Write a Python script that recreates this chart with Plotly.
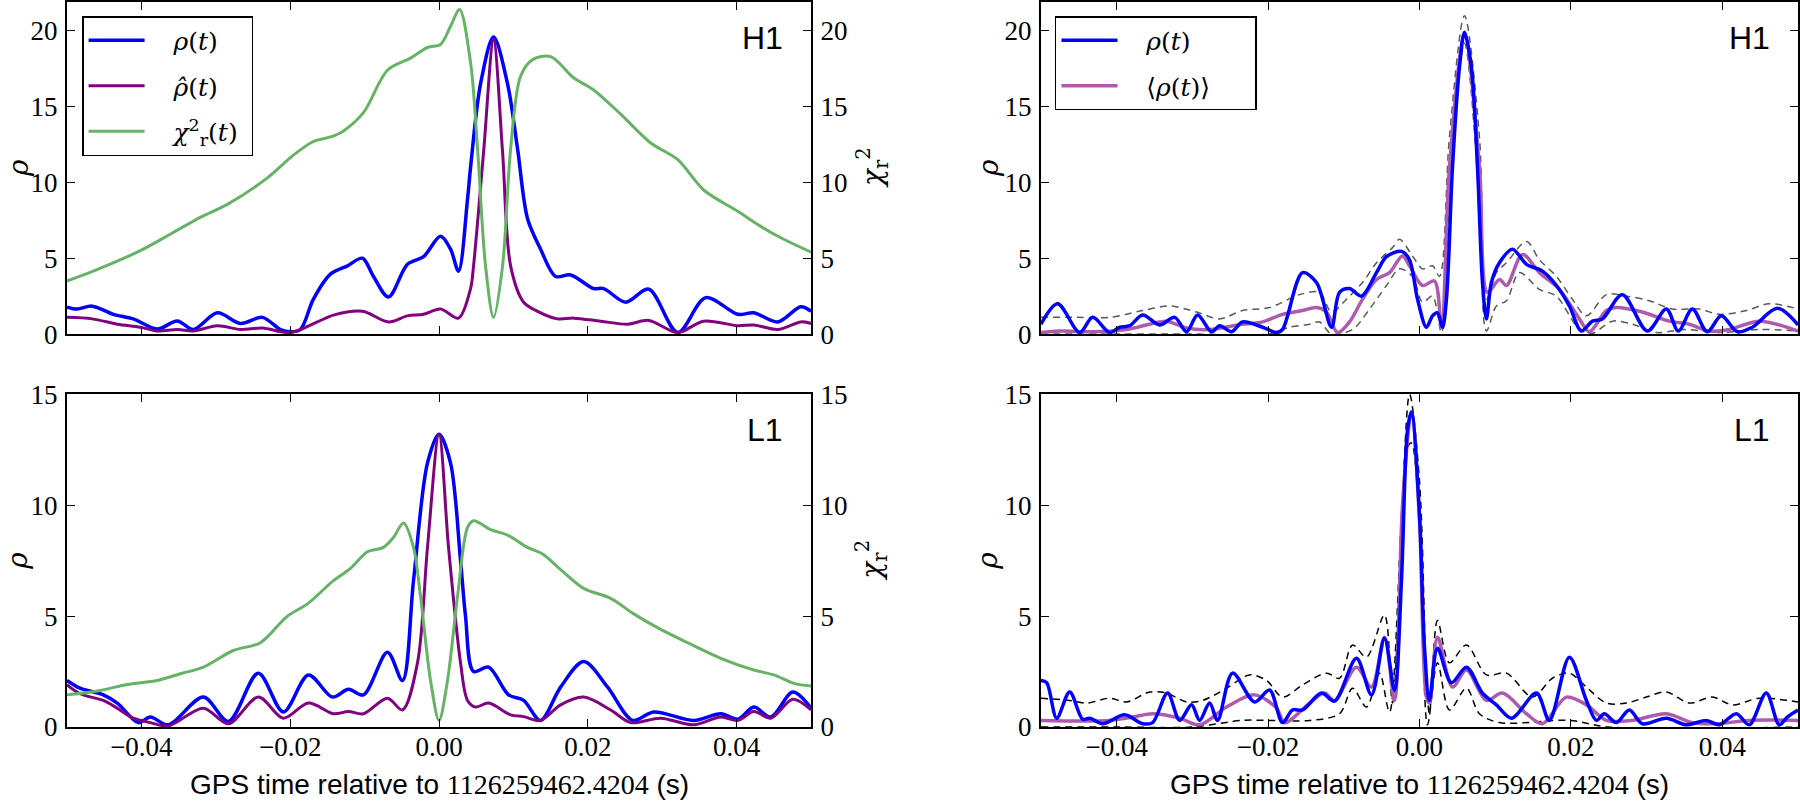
import plotly.graph_objects as go

# ---------------- data (time in s relative to 1126259462.4204) ----------------
# H1, left panel
h1_rho_t = [-0.05, -0.04865, -0.0466, -0.04378, -0.04109, -0.03786, -0.03517, -0.03302, -0.02979, -0.0267,
            -0.02374, -0.02132, -0.01997, -0.01863, -0.01688, -0.01459, -0.0123, -0.01029, -0.00881, -0.00679,
            -0.00424, -0.00208, 0.0002, 0.00155, 0.00262, 0.00383, 0.00424, 0.00558, 0.00733, 0.00921,
            0.01056, 0.0119, 0.01365, 0.01567, 0.01769, 0.02078, 0.02213, 0.02508, 0.02818, 0.03208,
            0.03584, 0.04015, 0.0423, 0.04553, 0.04862, 0.05]
h1_rho = [1.78, 1.65, 1.84, 1.3, 1.0, 0.33, 0.86, 0.3, 1.4, 0.7,
          1.1, 0.3, 0.15, 0.3, 2.3, 3.95, 4.5, 5.0, 3.8, 2.45,
          4.6, 5.1, 6.45, 5.6, 4.15, 8.9, 11.0, 16.5, 19.6, 16.5,
          12.2, 7.6, 5.6, 3.8, 3.9, 3.0, 3.0, 2.1, 2.96, 0.1,
          2.4, 1.3, 1.4, 0.8, 1.8, 1.5]

h1_rhohat_t = [-0.05, -0.0466, -0.04324, -0.04015, -0.03786, -0.03517, -0.03302, -0.02979, -0.0267, -0.02374,
               -0.01997, -0.01634, -0.01419, -0.01029, -0.00679, -0.00424, -0.00208, 0.0002, 0.00262, 0.00424,
               0.00464, 0.00599, 0.00733, 0.00854, 0.00962, 0.01137, 0.01325, 0.01594, 0.01809, 0.02172,
               0.02535, 0.02818, 0.03208, 0.03557, 0.04015, 0.0423, 0.04553, 0.04862, 0.05]
h1_rhohat = [1.1, 1.0, 0.65, 0.45, 0.2, 0.3, 0.2, 0.55, 0.3, 0.4,
             0.1, 0.8, 1.25, 1.5, 0.8, 1.2, 1.3, 1.65, 1.05, 3.0,
             4.5, 12.0, 19.4, 12.0, 4.5, 2.1, 1.5, 1.0, 1.05, 0.85,
             0.65, 0.9, 0.1, 0.85, 0.55, 0.6, 0.3, 0.8, 0.7]

h1_chi_t = [-0.05, -0.04647, -0.04015, -0.03571, -0.03208, -0.02845, -0.02307, -0.01957, -0.01688, -0.01459,
            -0.01284, -0.01016, -0.00693, -0.00383, -0.00155, 0.0002, 0.00155, 0.00276, 0.00424, 0.00518,
            0.00625, 0.00733, 0.00854, 0.00962, 0.01096, 0.01258, 0.015, 0.01809, 0.02078, 0.02441,
            0.02845, 0.03208, 0.03557, 0.04015, 0.04324, 0.04633, 0.05]
h1_chi = [3.5, 4.15, 5.5, 6.7, 7.7, 8.55, 10.3, 11.8, 12.7, 13.0,
          13.4, 14.6, 17.4, 18.2, 18.9, 19.1, 20.3, 21.4, 17.9, 12.2,
          4.5, 1.1, 4.5, 12.2, 17.0, 18.1, 18.3, 16.9, 16.1, 14.5,
          12.6, 11.5, 9.5, 8.1, 7.1, 6.25, 5.4]

# L1, left panel
l1_rho_t = [-0.05, -0.04824, -0.04512, -0.04324, -0.04042, -0.0388, -0.03638, -0.03167, -0.02831, -0.02428,
            -0.02092, -0.01755, -0.01432, -0.01217, -0.01016, -0.00693, -0.00491, -0.00343, -0.00155, 0.0,
            0.00155, 0.00289, 0.00356, 0.00464, 0.00666, 0.00935, 0.01137, 0.01365, 0.01634, 0.01944,
            0.02266, 0.02602, 0.02885, 0.03423, 0.03786, 0.04015, 0.0423, 0.04459, 0.04755, 0.05]
l1_rho = [2.1, 1.75, 1.45, 1.08, 0.2, 0.45, 0.1, 1.35, 0.25, 2.43,
          0.68, 2.35, 1.35, 1.7, 1.45, 3.37, 2.1, 6.6, 11.9, 13.2,
          11.9, 7.5, 5.0, 2.5, 2.7, 1.45, 1.2, 0.3, 1.8, 2.95,
          1.8, 0.3, 0.68, 0.3, 0.6, 0.35, 0.9, 0.45, 1.58, 0.85]

l1_rhohat_t = [-0.05, -0.04824, -0.04512, -0.04324, -0.04109, -0.0388, -0.03638, -0.03167, -0.02831, -0.02428,
               -0.02092, -0.01755, -0.01419, -0.01217, -0.01016, -0.00693, -0.00491, -0.00289, -0.00155, 0.0,
               0.00128, 0.00289, 0.00383, 0.00491, 0.00666, 0.00962, 0.01137, 0.01365, 0.01634, 0.01944,
               0.02307, 0.02576, 0.02979, 0.03423, 0.03786, 0.04015, 0.0423, 0.04459, 0.04755, 0.05]
l1_rhohat = [1.9, 1.5, 1.2, 0.85, 0.4, 0.2, 0.05, 0.85, 0.15, 1.35,
             0.4, 1.08, 0.6, 0.7, 0.6, 1.3, 0.77, 2.9, 8.1, 13.2,
             8.1, 2.9, 1.2, 0.9, 1.08, 0.55, 0.47, 0.3, 1.0, 1.35,
             0.77, 0.2, 0.4, 0.1, 0.45, 0.3, 0.7, 0.4, 1.25, 0.77]

l1_chi_t = [-0.05, -0.04553, -0.0419, -0.03786, -0.03477, -0.03167, -0.02764, -0.02401, -0.02038, -0.01769,
            -0.01419, -0.0119, -0.00962, -0.00746, -0.00612, -0.00477, -0.00343, -0.00249, -0.00114, 0.0,
            0.00114, 0.00249, 0.00383, 0.00464, 0.00693, 0.00921, 0.0119, 0.01392, 0.01634, 0.01944,
            0.02307, 0.02616, 0.02979, 0.03342, 0.03786, 0.0423, 0.04499, 0.04768, 0.05]
l1_chi = [1.45, 1.65, 1.92, 2.1, 2.4, 2.7, 3.45, 3.8, 5.0, 5.55,
          6.6, 7.15, 7.9, 8.1, 8.55, 9.2, 8.1, 5.9, 2.1, 0.3,
          2.1, 5.9, 9.0, 9.3, 8.9, 8.65, 8.1, 7.8, 7.1, 6.25,
          5.8, 5.1, 4.4, 3.8, 3.1, 2.57, 2.35, 1.97, 1.85]

# H1, right panel
h1r_rho_t = [-0.05, -0.04779, -0.04488, -0.04317, -0.04092, -0.0396, -0.03828, -0.03657, -0.03432, -0.03234,
             -0.03076, -0.02931, -0.02746, -0.0264, -0.02482, -0.02337, -0.02073, -0.01888, -0.01809, -0.01545,
             -0.0136, -0.01162, -0.01056, -0.00924, -0.00766, -0.00568, -0.00436, -0.00238, -0.00132, -0.00026,
             0.00092, 0.00172, 0.00238, 0.00304, 0.00356, 0.00436, 0.00528, 0.00594, 0.00686, 0.00766,
             0.00832, 0.00884, 0.0095, 0.01056, 0.01228, 0.01413, 0.01624, 0.01809, 0.0198, 0.02139,
             0.02284, 0.02416, 0.0268, 0.0301, 0.03261, 0.03419, 0.03604, 0.03802, 0.03987, 0.04198,
             0.04396, 0.04726, 0.05]
h1r_rho = [0.65, 2.0, 0.1, 1.1, 0.1, 0.45, 0.55, 1.25, 0.6, 1.1,
           0.15, 1.25, 0.15, 0.55, 0.15, 0.8, 0.45, 0.1, 0.3, 4.05,
           3.4, 0.45, 2.75, 3.0, 2.5, 4.05, 5.1, 5.45, 4.9, 2.3,
           0.45, 1.2, 1.4, 0.45, 2.3, 11.0, 17.6, 19.9, 17.6, 11.0,
           3.4, 1.0, 3.4, 4.7, 5.6, 4.6, 4.15, 3.2, 1.85, 0.2,
           0.85, 1.0, 2.6, 0.2, 1.65, 0.2, 1.65, 0.15, 1.2, 0.15,
           0.45, 1.7, 0.6]

h1r_mean_t = [-0.05, -0.04752, -0.04317, -0.03868, -0.03564, -0.0334, -0.03076, -0.02772, -0.02337, -0.02073,
              -0.01809, -0.01545, -0.0136, -0.01228, -0.01083, -0.00924, -0.00752, -0.00568, -0.00396, -0.00224,
              -0.00132, 0.0004, 0.00198, 0.0029, 0.00396, 0.00594, 0.00792, 0.00898, 0.01056, 0.01149,
              0.0136, 0.01584, 0.01848, 0.02112, 0.02244, 0.02469, 0.026, 0.02944, 0.033, 0.03564,
              0.03828, 0.04092, 0.04488, 0.05]
h1r_mean = [0.1, 0.2, 0.15, 0.3, 0.65, 0.85, 0.4, 0.3, 0.65, 0.8,
            1.3, 1.55, 1.75, 1.45, 0.1, 0.8, 2.3, 3.6, 4.05, 5.15,
            4.5, 3.2, 3.5, 0.45, 11.0, 19.7, 11.0, 2.75, 3.6, 3.2,
            5.25, 4.05, 2.95, 1.0, 0.15, 1.55, 1.75, 1.45, 0.85, 0.65,
            0.2, 0.3, 0.85, 0.2]

h1r_hi_t = [-0.05, -0.04528, -0.04092, -0.03657, -0.033, -0.02944, -0.0264, -0.02337, -0.0198, -0.01584,
            -0.0132, -0.01162, -0.00964, -0.00752, -0.00568, -0.00356, -0.00264, -0.00092, 0.0004, 0.00172,
            0.00264, 0.00396, 0.00594, 0.00792, 0.00884, 0.01016, 0.01149, 0.01413, 0.01584, 0.01809,
            0.0202, 0.02205, 0.02469, 0.02733, 0.03036, 0.0334, 0.03696, 0.0396, 0.04317, 0.0462, 0.05]
h1r_hi = [1.1, 1.1, 1.1, 1.55, 1.85, 1.45, 1.0, 1.55, 1.75, 2.6,
          2.75, 1.45, 2.3, 3.4, 4.7, 5.7, 6.25, 5.15, 4.3, 4.5,
          3.8, 13.0, 21.0, 13.0, 2.3, 4.05, 4.7, 6.1, 4.9, 3.8,
          2.3, 1.2, 2.6, 2.5, 2.2, 1.65, 1.65, 1.3, 1.55, 2.0, 1.65]

h1r_lo_t = [-0.05, -0.04, -0.03, -0.02, -0.01716, -0.01452, -0.0132, -0.01162, -0.00884, -0.0066,
            -0.00436, -0.00264, -0.00092, 0.0004, 0.00172, 0.0029, 0.00396, 0.00594, 0.00792, 0.00884,
            0.01016, 0.01149, 0.0132, 0.01584, 0.01809, 0.02112, 0.02284, 0.02548, 0.02812, 0.03129,
            0.035, 0.04, 0.045, 0.05]
h1r_lo = [0.0, 0.0, 0.0, 0.0, 0.45, 0.65, 0.8, 0.0, 0.3, 1.65,
          3.2, 4.3, 3.8, 2.1, 2.5, 0.1, 8.7, 19.2, 8.7, 0.2,
          1.85, 2.2, 4.05, 2.95, 2.5, 0.3, 0.05, 0.85, 0.65, 0.1,
          0.3, 0.1, 0.3, 0.2]

# L1, right panel
l1r_rho_t = [-0.05, -0.04924, -0.04792, -0.0462, -0.04449, -0.04356, -0.04185, -0.03894, -0.03657, -0.03525,
             -0.03327, -0.03168, -0.0301, -0.02904, -0.02772, -0.02667, -0.02469, -0.02178, -0.0198, -0.01809,
             -0.01677, -0.01545, -0.01294, -0.01122, -0.00832, -0.00634, -0.00462, -0.0033, -0.00238, -0.00158,
             -0.00106, 0.0, 0.00066, 0.00132, 0.00238, 0.00422, 0.0062, 0.00832, 0.01016, 0.01215,
             0.01545, 0.01716, 0.0198, 0.02205, 0.02337, 0.02442, 0.026, 0.02772, 0.02944, 0.03261,
             0.03525, 0.03789, 0.0396, 0.04185, 0.04356, 0.04581, 0.04752, 0.04858, 0.05]
l1r_rho = [2.1, 2.0, 0.4, 1.58, 0.35, 0.4, 0.15, 0.55, 0.15, 0.2,
           1.53, 0.3, 1.0, 0.3, 1.08, 0.3, 2.43, 1.13, 1.67, 0.2,
           0.77, 0.77, 1.53, 1.17, 3.1, 1.45, 4.0, 1.67, 6.6, 13.4,
           14.2, 9.6, 3.6, 1.2, 3.55, 2.0, 2.7, 1.53, 1.0, 0.4,
           1.53, 0.3, 3.15, 1.2, 0.3, 0.6, 0.2, 0.77, 0.15, 0.4,
           0.1, 0.3, 0.1, 0.6, 0.1, 1.53, 0.1, 0.45, 0.77]

l1r_mean_t = [-0.05, -0.04092, -0.03789, -0.03525, -0.03168, -0.02904, -0.02548, -0.02178, -0.01888, -0.01782,
              -0.01452, -0.01254, -0.01122, -0.00832, -0.00634, -0.00462, -0.0033, -0.00224, -0.00106, 0.0,
              0.00092, 0.00132, 0.00238, 0.00436, 0.0062, 0.00884, 0.01096, 0.01413, 0.01624, 0.01941,
              0.02205, 0.02469, 0.02812, 0.03261, 0.03604, 0.0392, 0.04356, 0.05]
l1r_mean = [0.3, 0.3, 0.45, 0.6, 0.4, 0.1, 0.9, 1.45, 0.85, 0.2,
            1.08, 1.53, 1.2, 2.7, 1.8, 4.05, 1.2, 10.0, 14.2, 9.3,
            1.35, 1.08, 4.05, 1.8, 2.57, 1.2, 1.53, 0.6, 0.15, 1.35,
            1.0, 0.3, 0.3, 0.6, 0.2, 0.15, 0.3, 0.3]

l1r_hi_t = [-0.05, -0.0462, -0.04396, -0.04092, -0.03868, -0.03564, -0.0334, -0.03076, -0.02865, -0.02548,
            -0.02244, -0.0202, -0.01809, -0.01545, -0.01228, -0.01056, -0.00884, -0.007, -0.00462, -0.00356,
            -0.00132, 0.0, 0.00092, 0.00132, 0.00238, 0.00396, 0.0062, 0.00884, 0.01149, 0.01492,
            0.01756, 0.0198, 0.02205, 0.02469, 0.02733, 0.02997, 0.03261, 0.03564, 0.03868, 0.04132,
            0.04488, 0.05]
l1r_hi = [1.3, 1.2, 1.08, 1.3, 1.13, 1.58, 1.53, 1.13, 1.2, 1.75,
          2.35, 2.1, 1.35, 1.9, 2.43, 2.2, 3.7, 3.15, 5.05, 1.08,
          15.0, 11.1, 2.1, 0.6, 4.8, 2.9, 3.7, 2.35, 2.43, 1.35,
          2.2, 2.43, 1.8, 1.08, 1.08, 1.35, 1.58, 1.08, 1.35, 1.0,
          1.3, 1.13]

l1r_lo_t = [-0.05, -0.04, -0.03, -0.02337, -0.0198, -0.01452, -0.01056, -0.00884, -0.007, -0.00528,
            -0.00396, -0.00158, -0.00106, 0.0, 0.00106, 0.00238, 0.00396, 0.0062, 0.00792, 0.01056,
            0.0198, 0.025, 0.05]
l1r_lo = [0.0, 0.0, 0.0, 0.3, 0.3, 0.3, 0.6, 1.75, 0.9, 2.43,
          0.68, 12.6, 12.8, 9.3, 0.1, 2.9, 0.77, 1.75, 0.6, 0.2,
          0.3, 0.0, 0.0]

x_ticks = [-0.04, -0.02, 0.0, 0.02, 0.04]
y_ticks_h1 = [0, 5, 10, 15, 20]
y_ticks_l1 = [0, 5, 10, 15]

# ---------------- styling ----------------
BLUE = "#0000ff"
PURPLE = "#800080"
GREEN = "#66b366"
LPURPLE = "#ad5cad"
GREY = "#595959"
SERIF = "DejaVu Serif"
TSERIF = "Liberation Serif"
SANS = "Liberation Sans"
NB = "\u00a0"

fig = go.Figure()

def line(x, y, xa, ya, color, width, name=None, legend=None, dash=None, show=False, rank=None):
    d = dict(color=color, width=width, shape="spline", smoothing=0.9)
    if dash:
        d["dash"] = dash
    tr = go.Scatter(x=x, y=y, xaxis=xa, yaxis=ya, mode="lines", line=d,
                    name=name, showlegend=show, hoverinfo="skip")
    if legend:
        tr.legend = legend
        tr.legendgroup = legend + str(rank)
        tr.legendrank = rank
    fig.add_trace(tr)

pad = NB * 3
rho_lbl = pad + "<i>ρ</i>(<i>t</i>)"
rhohat_lbl = pad + "<i>ρ̂</i>(<i>t</i>)"
chi_lbl = pad + "<i>χ</i><sup>2</sup><sub>r</sub>(<i>t</i>)" + NB
mean_lbl = pad + "⟨<i>ρ</i>(<i>t</i>)⟩" + NB * 5

# top-left (H1)
line(h1_rho_t, h1_rho, "x", "y", BLUE, 3.5, rho_lbl, "legend", show=True, rank=1)
line(h1_rhohat_t, h1_rhohat, "x", "y", PURPLE, 3, rhohat_lbl, "legend", show=True, rank=2)
line(h1_chi_t, h1_chi, "x", "y2", GREEN, 3, chi_lbl, "legend", show=True, rank=3)
# bottom-left (L1)
line(l1_rho_t, l1_rho, "x3", "y4", BLUE, 3.5)
line(l1_rhohat_t, l1_rhohat, "x3", "y4", PURPLE, 3)
line(l1_chi_t, l1_chi, "x3", "y5", GREEN, 3)
# top-right (H1)
line(h1r_hi_t, h1r_hi, "x2", "y3", GREY, 1.5, dash="7px,5px")
line(h1r_lo_t, h1r_lo, "x2", "y3", GREY, 1.5, dash="7px,5px")
line(h1r_mean_t, h1r_mean, "x2", "y3", LPURPLE, 3.5, mean_lbl, "legend2", show=True, rank=2)
line(h1r_rho_t, h1r_rho, "x2", "y3", BLUE, 3.5, rho_lbl + NB, "legend2", show=True, rank=1)
# bottom-right (L1)
line(l1r_hi_t, l1r_hi, "x4", "y6", "#000000", 1.5, dash="7px,5px")
line(l1r_lo_t, l1r_lo, "x4", "y6", "#000000", 1.5, dash="7px,5px")
line(l1r_mean_t, l1r_mean, "x4", "y6", LPURPLE, 3.5)
line(l1r_rho_t, l1r_rho, "x4", "y6", BLUE, 3.5)

LEFT = [0.0372, 0.4506]
RIGHT = [0.5783, 0.9989]
TOP = [0.584, 0.9975]
BOT = [0.0946, 0.509]

tickfont = dict(family=TSERIF, size=27, color="black")
common_x = dict(range=[-0.05, 0.05], tickvals=x_ticks, tickformat=".2f", ticks="inside", ticklen=8,
                tickwidth=1.2, tickcolor="black", showline=True, linecolor="black", linewidth=2,
                mirror="ticks", showgrid=False, zeroline=False, tickfont=tickfont, ticklabelstandoff=-5,
                automargin=False)
common_y = dict(ticks="inside", ticklen=8, tickwidth=1.2, tickcolor="black", showline=True,
                linecolor="black", linewidth=2, showgrid=False, zeroline=False, tickfont=tickfont,
                ticklabelstandoff=2, automargin=False)

fig.update_layout(
    template="none",
    width=1800, height=803, margin=dict(l=0, r=0, t=0, b=0, autoexpand=False),
    paper_bgcolor="white", plot_bgcolor="white",
    xaxis=dict(domain=LEFT, anchor="y", showticklabels=False, **common_x),
    xaxis2=dict(domain=RIGHT, anchor="y3", showticklabels=False, **common_x),
    xaxis3=dict(domain=LEFT, anchor="y4", **common_x),
    xaxis4=dict(domain=RIGHT, anchor="y6", **common_x),
    yaxis=dict(domain=TOP, anchor="x", range=[0, 21.9], tickvals=y_ticks_h1, mirror=True, **common_y),
    yaxis2=dict(overlaying="y", anchor="x", side="right", range=[0, 21.9], tickvals=y_ticks_h1, **common_y),
    yaxis3=dict(domain=TOP, anchor="x2", range=[0, 21.9], tickvals=y_ticks_h1, mirror="ticks", **common_y),
    yaxis4=dict(domain=BOT, anchor="x3", range=[0, 15], tickvals=y_ticks_l1, mirror=True, **common_y),
    yaxis5=dict(overlaying="y4", anchor="x3", side="right", range=[0, 15], tickvals=y_ticks_l1, **common_y),
    yaxis6=dict(domain=BOT, anchor="x4", range=[0, 15], tickvals=y_ticks_l1, mirror="ticks", **common_y),
    legend=dict(x=0.0456, y=0.98, xanchor="left", yanchor="top", bgcolor="white",
                bordercolor="black", borderwidth=1.5, font=dict(family=SERIF, size=25, color="black"),
                tracegroupgap=10, itemwidth=56),
    legend2=dict(x=0.5861, y=0.98, xanchor="left", yanchor="top", bgcolor="white",
                 bordercolor="black", borderwidth=1.5, font=dict(family=SERIF, size=25, color="black"),
                 tracegroupgap=10, itemwidth=56),
    showlegend=True,
)

# panel labels
lab = dict(family=SANS, size=32, color="black")
for xr, yr, txt in [("x", "y", "H1"), ("x2", "y3", "H1"), ("x3", "y4", "L1"), ("x4", "y6", "L1")]:
    fig.add_annotation(xref=xr + " domain", yref=yr + " domain", x=0.965, y=0.893, xanchor="right",
                       yanchor="middle", text=txt, showarrow=False, font=lab)

# axis titles
tfont = dict(family=SERIF, size=28, color="black")
for yr, xpos in [("y", 18), ("y4", 18), ("y3", 988), ("y6", 988)]:
    fig.add_annotation(xref="paper", yref=yr + " domain", x=xpos / 1800, y=0.5, xanchor="center",
                       yanchor="middle", text="<i>ρ</i>", textangle=-90, showarrow=False, font=tfont)
for yr in ["y", "y4"]:
    fig.add_annotation(xref="paper", yref=yr + " domain", x=872 / 1800, y=0.5, xanchor="center",
                       yanchor="middle", text="<i>χ</i><sub>r</sub><sup>2</sup>", textangle=-90,
                       showarrow=False, font=tfont)
xtitle = ("GPS time relative to <span style=\"font-family:'Liberation Serif'\">1126259462.4204</span> (s)")
for xr in ["x3", "x4"]:
    fig.add_annotation(xref=xr + " domain", yref="paper", x=0.5, y=1 - 784 / 803, xanchor="center",
                       yanchor="middle", text=xtitle, showarrow=False,
                       font=dict(family=SANS, size=28, color="black"))

fig.write_html("out.html", config={"displayModeBar": False},
               post_script="document.body.style.margin='0';document.body.style.padding='0';"
                           "document.documentElement.style.overflow='hidden';")
